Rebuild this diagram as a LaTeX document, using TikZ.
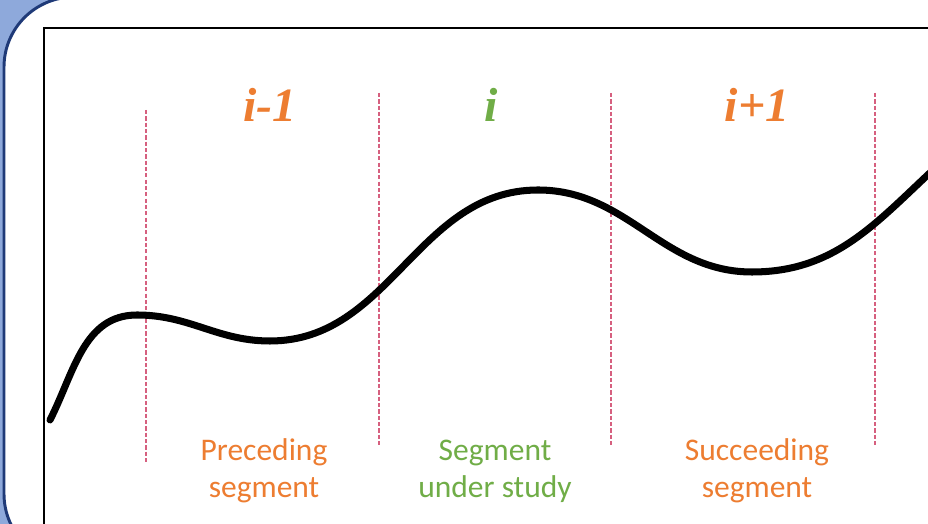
\documentclass[tikz,border=0pt]{standalone}
\usepackage{fontspec}
\newfontfamily\segfont{Carlito}
\newfontfamily\idxfont{Liberation Serif}
\usetikzlibrary{positioning}
\definecolor{segorange}{HTML}{ED7D31}
\definecolor{seggreen}{HTML}{70AD47}
\definecolor{framefill}{HTML}{8EA9DB}
\definecolor{frameline}{HTML}{1F3A78}
\definecolor{cutline}{HTML}{D6607F}
\begin{document}
\begin{tikzpicture}[x=0.025cm,y=0.025cm,
idx/.style={font=\idxfont\bfseries\itshape\fontsize{34}{40}\selectfont,inner sep=0pt,anchor=base},
seg/.style={font=\segfont\fontsize{22.4}{27}\selectfont,align=center,inner sep=0pt,anchor=base},
cut/.style={draw=cutline,line width=1.1pt,dash pattern=on 3pt off 1.5pt},
signal/.style={draw=black,line width=5pt,line cap=round}]
\useasboundingbox (0,0) rectangle (928,524);
\clip (0,0) rectangle (928,524);
% frame
\fill[framefill] (0,0) rectangle (928,524);
\draw[frameline,fill=white,line width=2.1pt,rounded corners=1.75cm] (4,-40) rectangle (990,527);
\draw[black,line width=1.4pt] (44,-40) rectangle (990,496);
% segment borders
\draw[cut] (146,414)--(146,61);
\foreach \xc in {379,611,875}
  \draw[cut] (\xc,431)--(\xc,79);
% curve
\draw[signal] (50,104) to[out=63,in=180] (137,209) to[out=0,in=180] (270,183)
  to[out=0,in=180] (538,334) to[out=0,in=180] (752,252) to[out=0,in=222] (945,365);
% indices
\node[idx,text=segorange] (prev) at (270,402) {i-1};
\node[idx,text=seggreen] (cur) at (491,402) {i};
\node[idx,text=segorange] (next) at (757,402) {i+1};
% segment names
\node[seg,text=segorange] (prevname) at (264,26) {Preceding\\segment};
\node[seg,text=seggreen] (curname) at (495,26) {Segment\\under study};
\node[seg,text=segorange] (nextname) at (757,26) {Succeeding\\segment};
\end{tikzpicture}
\end{document}
